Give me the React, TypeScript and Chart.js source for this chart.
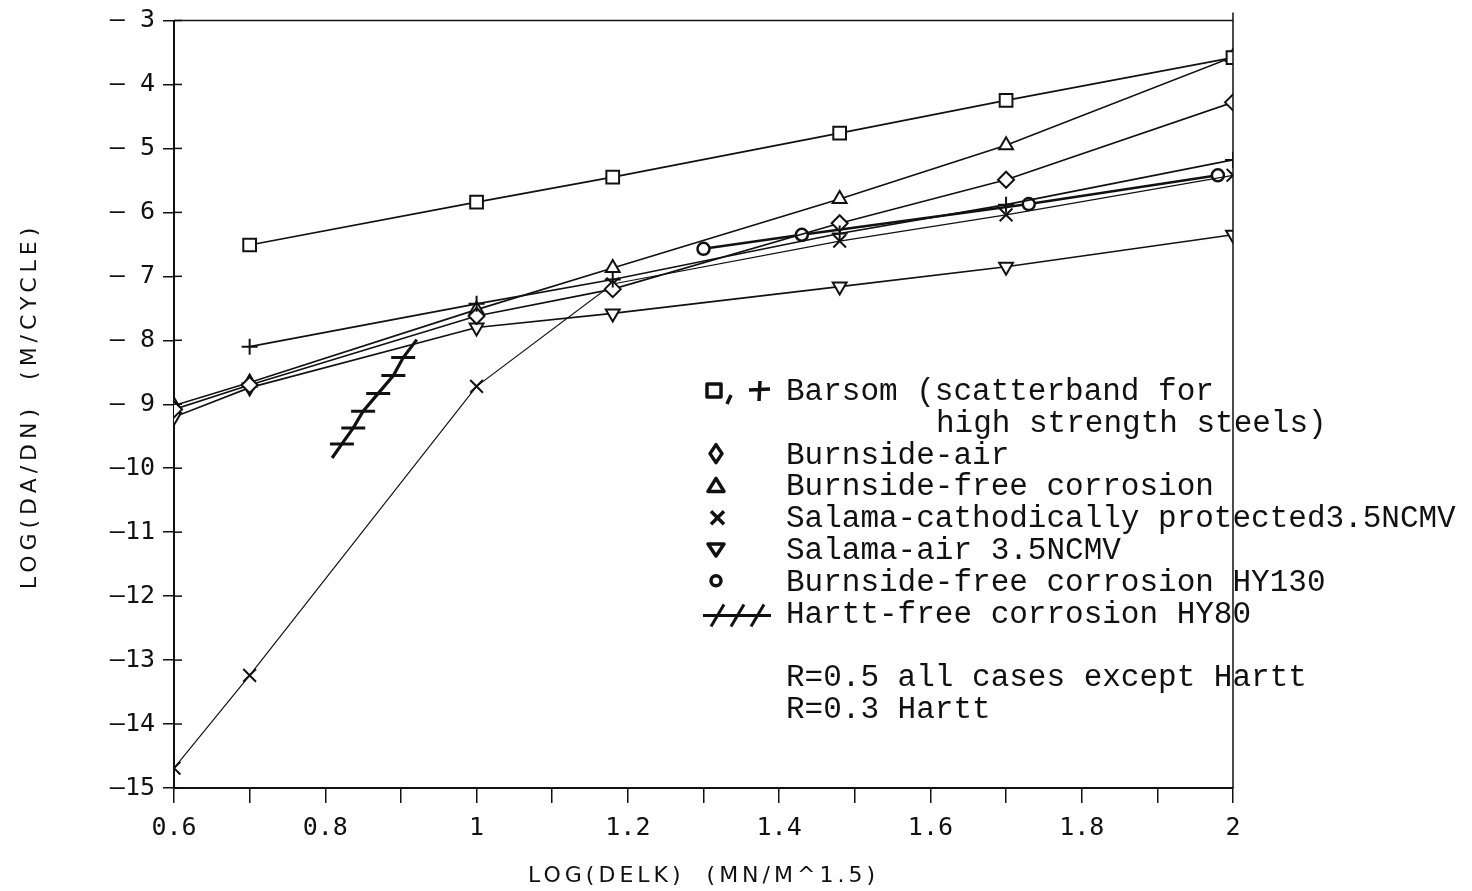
import { useEffect, useRef } from "react";
import { Chart, registerables } from "chart.js";

Chart.register(...registerables);

// Crack growth rate data: log(da/dN) against log(ΔK)
const barsomSquareX = [0.7, 1.0, 1.18, 1.48, 1.7, 2.0];
const barsomSquareY = [-6.51, -5.84, -5.45, -4.76, -4.25, -3.58];

const barsomPlusX = [0.7, 1.0, 1.18, 1.48, 1.7, 2.0];
const barsomPlusY = [-8.1, -7.43, -7.05, -6.33, -5.88, -5.18];

const burnsideAirX = [0.6, 0.7, 1.0, 1.18, 1.48, 1.7, 2.0];
const burnsideAirY = [-9.08, -8.7, -7.62, -7.2, -6.17, -5.49, -4.28];

const burnsideFreeX = [0.6, 0.7, 1.0, 1.18, 1.48, 1.7, 2.0];
const burnsideFreeY = [-9.02, -8.66, -7.52, -6.87, -5.79, -4.95, -3.57];

const salamaCpX = [0.6, 0.7, 1.0, 1.18, 1.48, 1.7, 2.0];
const salamaCpY = [-14.69, -13.24, -8.72, -7.12, -6.45, -6.04, -5.42];

const salamaAirX = [0.6, 0.7, 1.0, 1.18, 1.48, 1.7, 2.0];
const salamaAirY = [-9.2, -8.74, -7.8, -7.58, -7.16, -6.85, -6.35];

const hy130X = [1.3, 1.43, 1.73, 1.98];
const hy130Y = [-6.57, -6.35, -5.87, -5.42];

// Hartt band: end points of the segment plus the marked readings along it
const harttX = [0.809, 0.822, 0.837, 0.85, 0.87, 0.89, 0.903, 0.921];
const harttY = [-9.84, -9.62, -9.37, -9.11, -8.83, -8.55, -8.27, -7.99];
const harttMarked = [false, true, true, true, true, true, true, false];

const xMin = 0.6;
const xMax = 2;
const yMin = -15;
const yMax = -3;

const xTitle = "LOG(DELK)  (MN/M^1.5)";
const yTitle = "LOG(DA/DN)  (M/CYCLE)";

const legendLines = [
  "Barsom (scatterband for",
  "high strength steels)",
  "Burnside-air",
  "Burnside-free corrosion",
  "Salama-cathodically protected3.5NCMV",
  "Salama-air 3.5NCMV",
  "Burnside-free corrosion HY130",
  "Hartt-free corrosion HY80",
  "",
  "R=0.5 all cases except Hartt",
  "R=0.3 Hartt",
];

const pts = (xs: number[], ys: number[]) => xs.map((x, i) => ({ x, y: ys[i] }));

const INK = "#111";

const decorations = {
  id: "decorations",
  afterDraw(chart: any) {
    const { ctx, chartArea: a, scales } = chart;
    ctx.save();
    ctx.strokeStyle = INK;
    ctx.fillStyle = INK;

    // frame: top and right edges
    ctx.lineWidth = 1.5;
    ctx.beginPath();
    ctx.moveTo(a.left, a.top);
    ctx.lineTo(a.right, a.top);
    ctx.moveTo(a.right, a.top - 8);
    ctx.lineTo(a.right, a.bottom);
    ctx.stroke();

    // inner half of the y ticks
    ctx.lineWidth = 1.5;
    for (let v = yMin; v <= yMax; v++) {
      const py = scales.y.getPixelForValue(v);
      ctx.beginPath();
      ctx.moveTo(a.left, py);
      ctx.lineTo(a.left + 8, py);
      ctx.stroke();
    }

    // axis titles
    ctx.font = '22px "DejaVu Sans"';
    (ctx as any).letterSpacing = "4px";
    ctx.textAlign = "center";
    ctx.textBaseline = "middle";
    ctx.fillText(xTitle, (a.left + a.right) / 2, 876);
    ctx.save();
    ctx.translate(30, 406);
    ctx.rotate(-Math.PI / 2);
    (ctx as any).letterSpacing = "5px";
    ctx.fillText(yTitle, 0, 0);
    ctx.restore();
    (ctx as any).letterSpacing = "0px";

    // legend text
    const tx = 786;
    const rowY = (i: number) => 400 + i * 31.8;
    ctx.font = '31px "Liberation Mono"';
    ctx.textAlign = "left";
    ctx.textBaseline = "alphabetic";
    legendLines.forEach((t, i) => {
      if (!t) return;
      ctx.fillText(t, i === 1 ? 936 : tx, rowY(i));
    });

    // legend symbols
    const cy = (i: number) => rowY(i) - 10;
    ctx.lineWidth = 3.5;
    ctx.lineJoin = "round";
    // square, comma, plus
    ctx.strokeRect(707, cy(0) - 6, 14, 13);
    ctx.beginPath();
    ctx.moveTo(731, cy(0) + 5);
    ctx.lineTo(727, cy(0) + 14);
    ctx.stroke();
    ctx.beginPath();
    ctx.moveTo(749, cy(0));
    ctx.lineTo(770, cy(0) - 1);
    ctx.moveTo(760, cy(0) - 9);
    ctx.lineTo(759, cy(0) + 11);
    ctx.stroke();
    // diamond
    ctx.beginPath();
    ctx.moveTo(716, cy(2) - 9);
    ctx.lineTo(722, cy(2));
    ctx.lineTo(716, cy(2) + 9);
    ctx.lineTo(710, cy(2));
    ctx.closePath();
    ctx.stroke();
    // triangle
    ctx.beginPath();
    ctx.moveTo(716, cy(3) - 7);
    ctx.lineTo(724, cy(3) + 6);
    ctx.lineTo(708, cy(3) + 6);
    ctx.closePath();
    ctx.stroke();
    // cross
    ctx.beginPath();
    ctx.moveTo(711, cy(4) - 6);
    ctx.lineTo(724, cy(4) + 7);
    ctx.moveTo(724, cy(4) - 6);
    ctx.lineTo(711, cy(4) + 7);
    ctx.stroke();
    // inverted triangle
    ctx.beginPath();
    ctx.moveTo(708, cy(5) - 5);
    ctx.lineTo(724, cy(5) - 5);
    ctx.lineTo(716, cy(5) + 7);
    ctx.closePath();
    ctx.stroke();
    // circle
    ctx.beginPath();
    ctx.arc(716, cy(6), 5, 0, Math.PI * 2);
    ctx.stroke();
    // hatched line
    const hy = cy(7) + 3;
    ctx.lineWidth = 3;
    ctx.beginPath();
    ctx.moveTo(703, hy);
    ctx.lineTo(771, hy);
    [718, 738, 758].forEach((sx) => {
      ctx.moveTo(sx - 7, hy + 11);
      ctx.lineTo(sx + 6, hy - 11);
    });
    ctx.stroke();

    ctx.restore();
  },
};

export default function App() {
  const canvasRef = useRef<HTMLCanvasElement | null>(null);

  useEffect(() => {
    if (!canvasRef.current) return;
    const common = {
      borderColor: INK,
      pointBorderColor: INK,
      pointBackgroundColor: "#fff",
      borderWidth: 1.7,
      pointBorderWidth: 2,
      tension: 0,
      fill: false,
      showLine: true,
    };
    const chart = new Chart(canvasRef.current, {
      type: "scatter",
      data: {
        datasets: [
          { ...common, label: "Barsom (squares)", data: pts(barsomSquareX, barsomSquareY), pointStyle: "rect", pointRadius: 9 },
          { ...common, label: "Barsom (plus)", data: pts(barsomPlusX, barsomPlusY), pointStyle: "cross", pointRadius: 8 },
          { ...common, label: "Burnside-air", data: pts(burnsideAirX, burnsideAirY), pointStyle: "rectRot", pointRadius: 8 },
          { ...common, label: "Burnside-free corrosion", data: pts(burnsideFreeX, burnsideFreeY), pointStyle: "triangle", pointRadius: 8 },
          { ...common, label: "Salama-cathodically protected", data: pts(salamaCpX, salamaCpY), pointStyle: "crossRot", pointRadius: 9, borderWidth: 1.2 },
          { ...common, label: "Salama-air 3.5NCMV", data: pts(salamaAirX, salamaAirY), pointStyle: "triangle", pointRotation: 180, pointRadius: 8 },
          { ...common, label: "Burnside-free corrosion HY130", data: pts(hy130X, hy130Y), pointStyle: "circle", pointRadius: 6, borderWidth: 2.6, pointBorderWidth: 2.5 },
          {
            ...common,
            label: "Hartt-free corrosion HY80",
            data: pts(harttX, harttY),
            pointStyle: "line",
            pointRadius: harttMarked.map((m) => (m ? 12 : 0)),
            borderWidth: 3.2,
            pointBorderWidth: 3,
          },
        ],
      },
      options: {
        responsive: false,
        animation: false,
        events: [],
        layout: { padding: { top: 18, right: 239, left: 0, bottom: 0 } },
        plugins: { legend: { display: false }, tooltip: { enabled: false } },
        scales: {
          x: {
            type: "linear",
            min: xMin,
            max: xMax,
            afterFit: (s: any) => {
              s.height = 103;
            },
            border: { display: true, color: INK, width: 2 },
            grid: { drawOnChartArea: false, drawTicks: true, tickLength: 15, color: INK, lineWidth: 1.5 },
            ticks: {
              stepSize: 0.1,
              autoSkip: false,
              maxRotation: 0,
              padding: 10,
              color: INK,
              font: { family: '"DejaVu Sans Mono"', size: 25 },
              callback: (v: any) => {
                const t = Math.round(Number(v) * 10);
                return t % 2 === 0 ? String(t / 10) : "";
              },
            },
          },
          y: {
            type: "linear",
            min: yMin,
            max: yMax,
            afterFit: (s: any) => {
              s.width = 174;
            },
            border: { display: true, color: INK, width: 2 },
            grid: { drawOnChartArea: false, drawTicks: true, tickLength: 11, color: INK, lineWidth: 1.5 },
            ticks: {
              stepSize: 1,
              autoSkip: false,
              padding: 8,
              color: INK,
              font: { family: '"DejaVu Sans Mono"', size: 25, lineHeight: 1 },
              callback: (v: any) => {
                const n = Math.abs(Math.round(Number(v)));
                return "\u2014" + (n < 10 ? " " : "") + n;
              },
            },
          },
        },
      },
      plugins: [decorations],
    } as any);
    return () => chart.destroy();
  }, []);

  return (
    <div style={{ position: "absolute", left: 0, top: 0, width: 1472, height: 891, background: "#fff" }}>
      <canvas ref={canvasRef} width={1472} height={891} style={{ display: "block" }} />
    </div>
  );
}
